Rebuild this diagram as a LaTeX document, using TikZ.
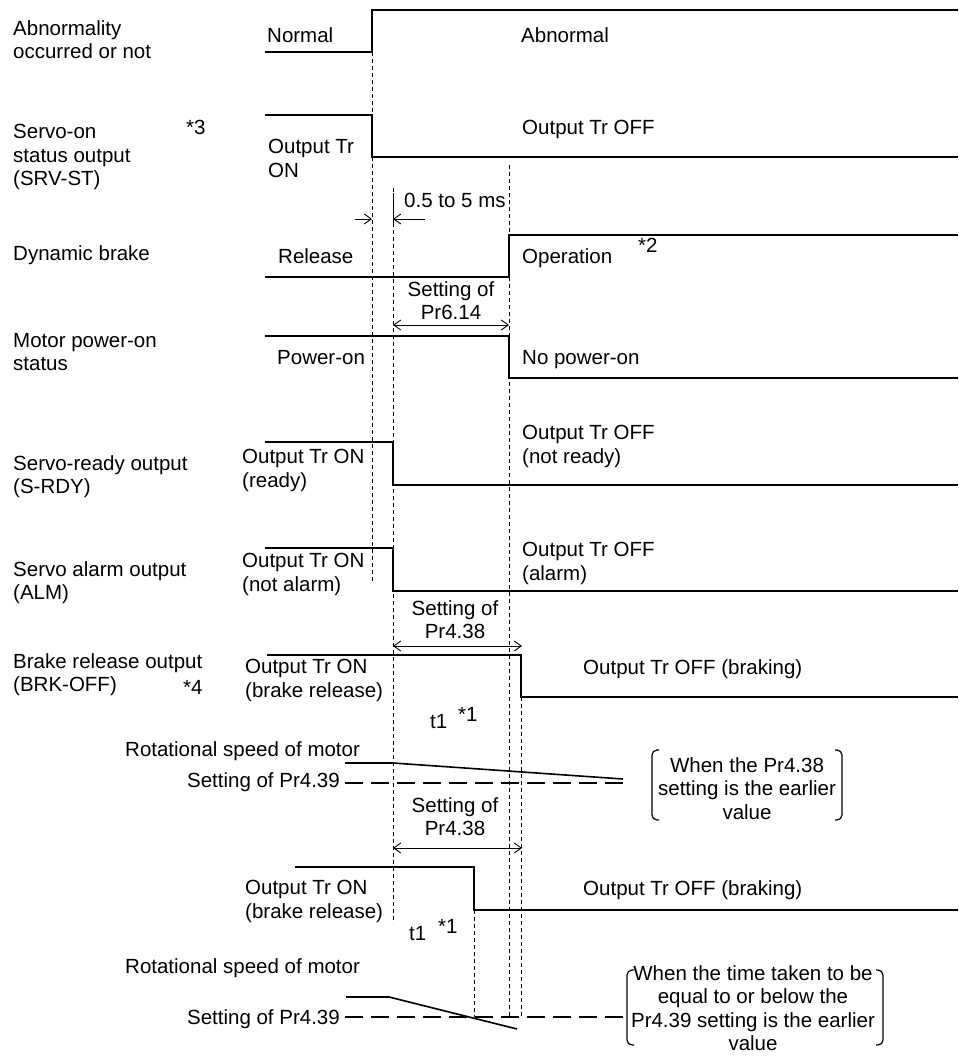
\documentclass[tikz,border=0pt]{standalone}
\usepackage{fontspec}
\setmainfont{Liberation Sans}
\usetikzlibrary{arrows.meta}
\tikzset{
  sig/.style={line width=2pt,line join=miter},
  guide/.style={line width=0.9pt,dash pattern=on 4pt off 3pt},
  lvl/.style={line width=1.4pt,dash pattern=on 18pt off 8pt},
  spd/.style={line width=1.6pt},
  tip/.style={line width=0.9pt,-{Straight Barb[length=7pt,width=10pt]}},
  dimarr/.style={line width=0.9pt,{Straight Barb[length=7pt,width=10pt]}-{Straight Barb[length=7pt,width=10pt]}},
  lbl/.style={anchor=north west,inner sep=0pt,align=left},
  mid/.style={anchor=north,inner sep=0pt,align=center},
  brk/.style={line width=1.2pt,rounded corners=5pt},
}

\begin{document}
\begin{tikzpicture}[x=1pt,y=-1pt,font=\fontsize{20.5}{23.5}\selectfont]
\useasboundingbox (0,0) rectangle (958,1057);
% signal names
\node[lbl] (nabn) at (13,20) {Abnormality\\occurred or not};
\node[lbl] (nsrv) at (13,124) {Servo-on\\status output\\(SRV-ST)};
\node[lbl] (n3) at (186,120) {*3};
\node[lbl] (ndb) at (13,245) {Dynamic brake};
\node[lbl] (npow) at (13,333) {Motor power-on\\status};
\node[lbl] (nrdy) at (13,455) {Servo-ready output\\(S-RDY)};
\node[lbl] (nalm) at (13,561) {Servo alarm output\\(ALM)};
\node[lbl] (nbrk) at (13,653) {Brake release output\\(BRK-OFF)};
\node[lbl] (n4) at (183,680) {*4};
% waveforms
\draw[sig] (265,52) -- (372,52) -- (372,10) -- (958,10);
\draw[sig] (265,115) -- (372,115) -- (372,157) -- (958,157);
\draw[sig] (265,277) -- (509,277) -- (509,235) -- (958,235);
\draw[sig] (265,336) -- (509,336) -- (509,378) -- (958,378);
\draw[sig] (265,442) -- (393,442) -- (393,485) -- (958,485);
\draw[sig] (265,548) -- (393,548) -- (393,591) -- (958,591);
\draw[sig] (267,655) -- (521,655) -- (521,697) -- (958,697);
\draw[sig] (295,867) -- (474,867) -- (474,910) -- (958,910);
% time guides
\draw[guide] (372,52) -- (372,582);
\draw[guide] (393,188) -- (393,923);
\draw[guide] (509,165) -- (509,1017);
\draw[guide] (521,697) -- (521,1017);
\draw[guide] (474,910) -- (474,1017);
\draw[line width=0.9pt] (393,193) -- (393,223);
% state texts
\node[lbl] (snor) at (267,27) {Normal};
\node[lbl] (sabn) at (521,27) {Abnormal};
\node[lbl] (son) at (268,139) {Output Tr\\ON};
\node[lbl] (soff) at (522,120) {Output Tr OFF};
\node[lbl] (srel) at (278,248) {Release};
\node[lbl] (sop) at (522,248) {Operation};
\node[lbl] (s2) at (638,238) {*2};
\node[lbl] (spon) at (277,350) {Power-on};
\node[lbl] (snpon) at (522,350) {No power-on};
\node[lbl] (srdy) at (242,449) {Output Tr ON\\(ready)};
\node[lbl] (snrdy) at (522,425) {Output Tr OFF\\(not ready)};
\node[lbl] (salm) at (242,553) {Output Tr ON\\(not alarm)};
\node[lbl] (snalm) at (522,542) {Output Tr OFF\\(alarm)};
\node[lbl] (sbrk) at (245,659) {Output Tr ON\\(brake release)};
\node[lbl] (sbrkoff) at (583,659) {Output Tr OFF (braking)};
\node[lbl] (st1) at (430,714) {t1};
\node[lbl] (s1) at (458,707) {*1};
% 0.5 to 5 ms
\coordinate (ms0) at (355,219); \coordinate (ms1) at (372,219);
\coordinate (ms2) at (425,219); \coordinate (ms3) at (393,219);
\draw[tip](ms0)--(ms1);\draw[tip](ms2)--(ms3);
\node[lbl] (dms) at (404,193) {0.5 to 5 ms};
% Pr6.14 and Pr4.38
\node[mid] (d614) at (451,281) {Setting of\\Pr6.14};
\coordinate (a0) at (393,325); \coordinate (a1) at (509,325);
\draw[dimarr](a0)--(a1);
\node[mid] (d438) at (455,600) {Setting of\\Pr4.38};
\coordinate (b0) at (393,646); \coordinate (b1) at (522,646);
\draw[dimarr](b0)--(b1);
% motor speed, first case
\node[lbl] (rs1) at (125,741) {Rotational speed of motor};
\node[anchor=north east,inner sep=0pt] (th1) at (340,772) {Setting of Pr4.39};
\draw[spd] (345,763) -- (393,763) -- (623,779);
\draw[lvl] (345,783) -- (623,783);
\node[mid] (c1) at (747,757) {When the Pr4.38\\setting is the earlier\\value};
\draw[brk] (659,750) -- (652,750) -- (652,820) -- (659,820);
\draw[brk] (835,750) -- (842,750) -- (842,820) -- (835,820);
% second case
\node[mid] (d438b) at (455,797) {Setting of\\Pr4.38};
\coordinate (e0) at (393,848); \coordinate (e1) at (522,848);
\draw[dimarr](e0)--(e1);
\node[lbl] (sbrk2) at (245,880) {Output Tr ON\\(brake release)};
\node[lbl] (sbrkoff2) at (583,880) {Output Tr OFF (braking)};
\node[lbl] (st1b) at (409,926) {t1};
\node[lbl] (s1b) at (438,919) {*1};
\node[lbl] (rs2) at (125,958) {Rotational speed of motor};
\node[anchor=north east,inner sep=0pt] (th2) at (340,1009) {Setting of Pr4.39};
\draw[spd] (346,997) -- (389,997) -- (517,1029);
\draw[lvl] (345,1017) -- (623,1017);
\node[mid] (c2) at (753,965) {When the time taken to be\\equal to or below the\\Pr4.39 setting is the earlier\\value};
\draw[brk] (634,970) -- (627,970) -- (627,1045) -- (634,1045);
\draw[brk] (876,970) -- (883,970) -- (883,1045) -- (876,1045);
\end{tikzpicture}
\end{document}
